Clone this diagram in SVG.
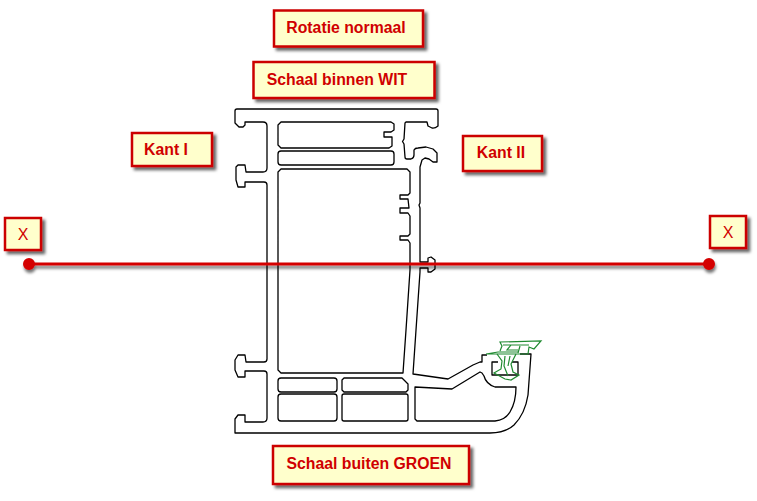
<svg xmlns="http://www.w3.org/2000/svg" width="757" height="501" viewBox="0 0 757 501">
<defs>
<filter id="sh" x="-20%" y="-30%" width="150%" height="170%"><feDropShadow dx="3" dy="3" stdDeviation="1.6" flood-color="#000" flood-opacity="0.6"/></filter>
<filter id="lsh" x="-5%" y="-100%" width="110%" height="400%"><feDropShadow dx="1" dy="3" stdDeviation="1.5" flood-color="#000" flood-opacity="0.55"/></filter>
</defs>
<style>
.box{fill:#ffffcc;stroke:#cc0000;stroke-width:2.5;filter:url(#sh)}
.lbl{font-family:"Liberation Sans",Arial,sans-serif;font-size:15.8px;font-weight:bold;fill:#d00000;text-anchor:middle}
.x{font-weight:normal;font-size:16px}
.prof{fill:none;stroke:#000;stroke-width:1.3;stroke-linejoin:round}
.gr{fill:none;stroke:#1f8a30;stroke-width:1.2}
.axis{stroke:#d40000;stroke-width:3;fill:#d40000}
</style>
<g id="profile">
<path class="prof" d="M237,109H436Q438,109 438,111V126Q435,128.500 432,128L428,126L427,122H406L405,123L404,139L402.500,141.500L404,144L405,157Q405,159 407,159H411Q414,158 414,155V150Q415,148 418,148L426,147L433,149L437,153V162H433L429,159L425,158L422,160L420,167V203L419,205L420,208V262H428V258L431,257L435,260V269L431,272H428V268H420V272L416,330L413,374L448,379L473,365L480,362H482V355H487"/>
<path class="prof" d="M237,109Q235,109 235,111V123L239,127H243L245,125V122H263Q267,122 267,126V168Q267,172 263,172H246L245,165H238L236,167V180L238,187H245V182H264Q267,182 267,185V359Q267,362 264,362H246L245,355H238L235,360V370L238,377H245V371H264Q267,371 267,374V418Q267,422 263,422H245V415H238L235,419V433H490Q505,433 514,425Q525,414 528,395L531,354H520"/>
<path class="prof" d="M498,362H492V375H518V362H512"/>
<path class="prof" d="M281,122H391L394,124V130L391,132H384V137H392V146L389,148H281L278,145V125Z"/>
<rect class="prof" x="278" y="151" width="116" height="14" rx="3"/>
<path class="prof" d="M281,169H407L410,172V193L408,195H400V199H408L409,208H400V213H408L410,216V234L408,236H400V240H408L410,243V270L406,330L403,373H281L278,370V172Z"/>
<rect class="prof" x="278" y="378" width="59" height="14" rx="3"/>
<path class="prof" d="M344,378H402L408,384V390L406,392H344L342,390V380Z"/>
<rect class="prof" x="278" y="394" width="59" height="27" rx="3"/>
<rect class="prof" x="342" y="394" width="66" height="27" rx="2"/>
<path class="prof" d="M415,387V419L417,421H495Q505,420 510,412Q516,402 516,387H495Q486,384 484,376L482,373L480,372L452,389Z"/>
<path class="gr" d="M486,354L498,352H518M500,351L502,346L500,342L541,341L534,349L529,347L528,354H486"/>
<path class="gr" d="M503,345H529M511,345L507,350H518M520,346L518,353"/>
<path class="gr" d="M497,354L502,361L501,369L494,373L505,379L511,380L519,375L513,372L511,364L516,354"/>
<path class="gr" d="M505,356L504,366L508,376M510,356L508,366"/>
</g>
<g id="connectors">
<g filter="url(#lsh)">
<line class="axis" x1="29" y1="264" x2="709" y2="264"/>
<circle class="axis" cx="29" cy="264" r="4.500"/>
<circle class="axis" cx="709" cy="264" r="4.500"/>
</g>
</g>
<g id="rotatie"><rect class="box" x="274" y="10.500" width="149" height="36"/><text class="lbl" x="346" y="33">Rotatie normaal</text></g>
<g id="binnen"><rect class="box" x="253.500" y="62" width="181" height="36"/><text class="lbl" x="337" y="85">Schaal binnen WIT</text></g>
<g id="kant1"><rect class="box" x="132" y="133" width="80" height="33"/><text class="lbl" x="166" y="155">Kant I</text></g>
<g id="kant2"><rect class="box" x="463" y="136" width="79" height="35"/><text class="lbl" x="501" y="158">Kant II</text></g>
<g id="xl"><rect class="box" x="5" y="218" width="36" height="32"/><text class="lbl x" x="23" y="240">X</text></g>
<g id="xr"><rect class="box" x="710" y="216" width="36" height="32"/><text class="lbl x" x="728" y="238">X</text></g>
<g id="buiten"><rect class="box" x="273" y="446" width="196" height="38"/><text class="lbl" x="369" y="469">Schaal buiten GROEN</text></g>
</svg>
